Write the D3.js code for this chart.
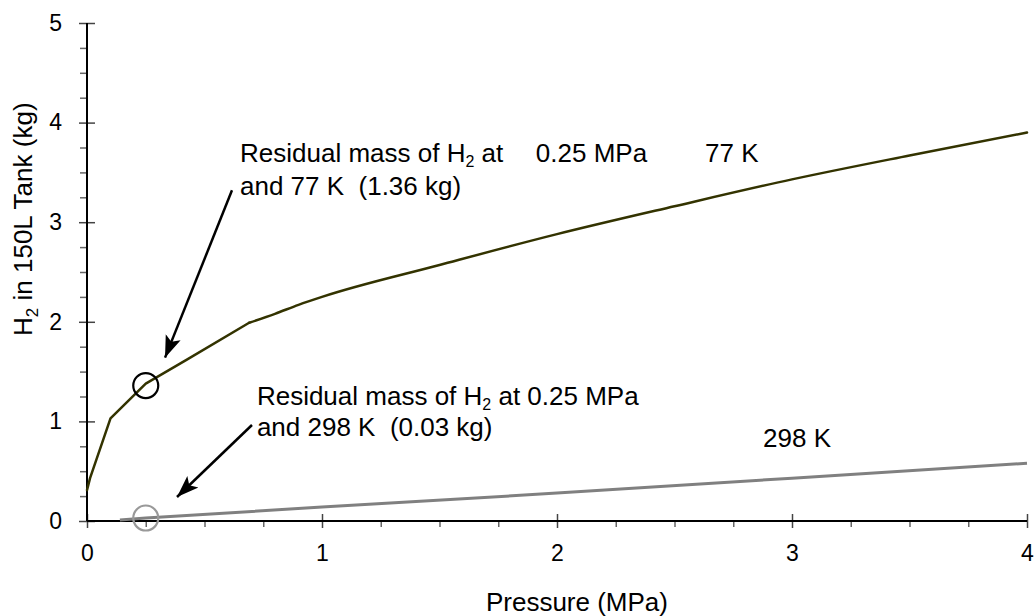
<!DOCTYPE html>
<html>
<head>
<meta charset="utf-8">
<script src="https://cdn.jsdelivr.net/npm/d3@7"></script>
<style>
  body { margin: 0; background: #fff; }
  text { font-family: "Liberation Sans", Arial, sans-serif; fill: #000; }
</style>
</head>
<body>
<div id="chart"></div>
<script>
// Pressure (MPa) and H2 mass (kg)
const p77 = [0, 0.013, 0.1, 0.25, 0.425, 0.69, 0.8, 0.9, 1.0, 1.5, 2.0, 2.5, 3.0, 3.5, 4.0];
const m77 = [0.31, 0.43, 1.03, 1.38, 1.62, 1.99, 2.08, 2.17, 2.25, 2.57, 2.88, 3.16, 3.43, 3.67, 3.9];
const p298 = [0.14, 0.25, 1.0, 2.0, 3.0, 4.0];
const m298 = [0.01, 0.03, 0.14, 0.28, 0.43, 0.58];

// residual points marked with circles
const residualP = [0.25, 0.25];
const residualM = [1.36, 0.03];

const xTicks = [0, 1, 2, 3, 4];
const yTicks = [0, 1, 2, 3, 4, 5];

// Set the margins for the SVG element
let margin = {top: 23, right: 8, bottom: 95, left: 87};
let width = 1035 - margin.left - margin.right;
let height = 616 - margin.top - margin.bottom;

let svg = d3.select("#chart").append("svg")
    .attr("width", width + margin.left + margin.right)
    .attr("height", height + margin.top + margin.bottom)
    .append("g")
    .attr("transform", "translate(" + margin.left + "," + margin.top + ")");

const xScale = d3.scaleLinear().domain([0, 4]).range([0, width]);
const yScale = d3.scaleLinear().domain([0, 5]).range([height, 0]);

const xMinor = d3.range(0, 4.001, 0.25).filter(d => d % 1 !== 0);
const yMinor = d3.range(0, 5.001, 0.25).filter(d => d % 1 !== 0);

// minor ticks (outside only)
svg.append("g")
    .attr("transform", `translate(0, ${height})`)
    .call(d3.axisBottom(xScale).tickValues(xMinor).tickSize(6).tickFormat(""))
    .call(g => g.select(".domain").remove())
    .selectAll("line").attr("stroke", "#666").attr("stroke-width", 1.5);
svg.append("g")
    .call(d3.axisLeft(yScale).tickValues(yMinor).tickSize(7).tickFormat(""))
    .call(g => g.select(".domain").remove())
    .selectAll("line").attr("stroke", "#666").attr("stroke-width", 1.5);

// major ticks crossing the axis
[7, -7].forEach(s => {
    svg.append("g")
        .attr("transform", `translate(0, ${height})`)
        .call(d3.axisBottom(xScale).tickValues(xTicks).tickSize(s).tickFormat(""))
        .call(g => g.select(".domain").remove())
        .selectAll("line").attr("stroke", "#444").attr("stroke-width", 1.5);
});
[8, -8].forEach(s => {
    svg.append("g")
        .call(d3.axisLeft(yScale).tickValues(yTicks).tickSize(s).tickFormat(""))
        .call(g => g.select(".domain").remove())
        .selectAll("line").attr("stroke", "#444").attr("stroke-width", 1.5);
});

// tick labels
svg.append("g")
    .attr("class", "x-axis")
    .attr("transform", `translate(0, ${height})`)
    .call(d3.axisBottom(xScale).tickValues(xTicks).tickSize(0).tickPadding(24).tickFormat(d3.format("d")))
    .call(g => g.select(".domain").remove())
    .selectAll("text").attr("font-size", 23).attr("font-family", null);
svg.append("g")
    .attr("class", "y-axis")
    .call(d3.axisLeft(yScale).tickValues(yTicks).tickSize(0).tickPadding(25).tickFormat(d3.format("d")))
    .call(g => g.select(".domain").remove())
    .selectAll("text").attr("font-size", 23).attr("font-family", null);

// axis lines
svg.append("line")
    .attr("x1", 0).attr("x2", 0).attr("y1", 0).attr("y2", height)
    .attr("stroke", "#000").attr("stroke-width", 2);
svg.append("line")
    .attr("x1", 0).attr("x2", width).attr("y1", height).attr("y2", height)
    .attr("stroke", "#000").attr("stroke-width", 2);

// axis titles
svg.append("text")
    .attr("x", xScale(2.085)).attr("y", height + 90)
    .attr("text-anchor", "middle").attr("font-size", 26)
    .text("Pressure (MPa)");

let yTitle = svg.append("text")
    .attr("transform", `translate(${32 - margin.left}, ${yScale(3.03)}) rotate(-90)`)
    .attr("text-anchor", "middle").attr("font-size", 26);
yTitle.append("tspan").text("H");
yTitle.append("tspan").attr("font-size", 17).attr("dy", 6).text("2");
yTitle.append("tspan").attr("dy", -6).text(" in 150L Tank (kg)");

// lines
const line = d3.line()
    .x(d => xScale(d[0]))
    .y(d => yScale(d[1]));
const smoothLine = d3.line()
    .x(d => xScale(d[0]))
    .y(d => yScale(d[1]))
    .curve(d3.curveMonotoneX);

svg.append("path")
    .datum(d3.zip(p298, m298))
    .attr("fill", "none")
    .attr("stroke", "#808080")
    .attr("stroke-width", 3)
    .attr("d", line);

// 77 K: sharp bends at low pressure, smooth above ~0.7 MPa
const pts77 = d3.zip(p77, m77);
const bend = p77.indexOf(0.69);
[[line, pts77.slice(0, bend + 1)], [smoothLine, pts77.slice(bend)]].forEach(([gen, pts]) => {
    svg.append("path")
        .datum(pts)
        .attr("fill", "none")
        .attr("stroke", "#333300")
        .attr("stroke-width", 2.5)
        .attr("stroke-linejoin", "round")
        .attr("stroke-linecap", "round")
        .attr("d", gen);
});

// circles on residual points
const circleColors = ["#000", "#999"];
svg.selectAll(".resid")
    .data(d3.zip(residualP, residualM))
    .join("circle")
    .attr("class", "resid")
    .attr("cx", d => xScale(d[0]))
    .attr("cy", d => yScale(d[1]))
    .attr("r", 12.5)
    .attr("fill", "none")
    .attr("stroke", (d, i) => circleColors[i])
    .attr("stroke-width", 2.2);

// arrows
svg.append("defs").append("marker")
    .attr("id", "arrow")
    .attr("markerUnits", "userSpaceOnUse")
    .attr("markerWidth", 24).attr("markerHeight", 18)
    .attr("viewBox", "0 0 24 18")
    .attr("refX", 22).attr("refY", 9)
    .attr("orient", "auto")
    .append("path")
    .attr("d", "M0,1 L22,9 L0,17 L5,9 Z")
    .attr("fill", "#000");

const arrowFrom = [[0.617, 3.32], [0.702, 0.964]];
const arrowTo = [[0.332, 1.64], [0.383, 0.241]];
arrowFrom.forEach((f, i) => {
    svg.append("line")
        .attr("x1", xScale(f[0])).attr("y1", yScale(f[1]))
        .attr("x2", xScale(arrowTo[i][0])).attr("y2", yScale(arrowTo[i][1]))
        .attr("stroke", "#000").attr("stroke-width", 2.5)
        .attr("marker-end", "url(#arrow)");
});

// annotation text
function subText(x, y, before, after) {
    let t = svg.append("text")
        .attr("x", xScale(x)).attr("y", yScale(y))
        .attr("font-size", 26)
        .style("white-space", "pre");
    t.append("tspan").text(before);
    t.append("tspan").attr("font-size", 16).attr("dy", 5).text("2");
    t.append("tspan").attr("dy", -5).text(after);
}
function plainText(x, y, s) {
    svg.append("text")
        .attr("x", xScale(x)).attr("y", yScale(y))
        .attr("font-size", 26)
        .style("white-space", "pre")
        .text(s);
}

subText(0.651, 3.6, "Residual mass of H", " at");
plainText(1.91, 3.6, "0.25 MPa");
plainText(0.651, 3.27, "and 77 K  (1.36 kg)");
plainText(2.63, 3.6, "77 K");

subText(0.723, 1.165, "Residual mass of H", " at 0.25 MPa");
plainText(0.723, 0.853, "and 298 K  (0.03 kg)");
plainText(2.877, 0.743, "298 K");
</script>
</body>
</html>
